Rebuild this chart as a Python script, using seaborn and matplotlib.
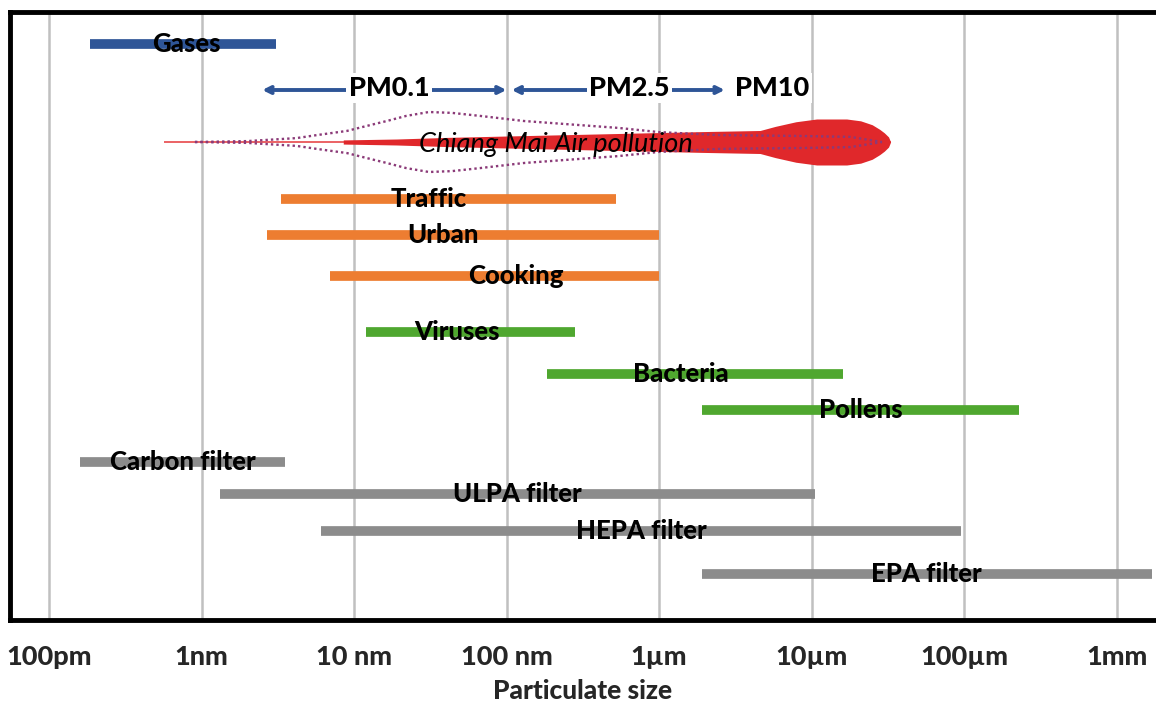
import seaborn as sns
import matplotlib.pyplot as plt
import pandas as pd
import numpy as np

# particle size ranges (metres)
items = ["Gases", "Traffic", "Urban", "Cooking", "Viruses", "Bacteria", "Pollens",
         "Carbon filter", "ULPA filter", "HEPA filter", "EPA filter"]
groups = ["gas", "source", "source", "source", "bio", "bio", "bio",
          "filter", "filter", "filter", "filter"]
size_min = [1.85e-10, 3.3e-9, 2.7e-9, 7.0e-9, 1.2e-8, 1.85e-7, 1.9e-6,
            1.6e-10, 1.33e-9, 6.1e-9, 1.9e-6]
size_max = [3.1e-9, 5.2e-7, 1.0e-6, 1.0e-6, 2.8e-7, 1.6e-5, 2.3e-4,
            3.5e-9, 1.05e-5, 9.5e-5, 1.7e-3]

# Chiang Mai air pollution profiles (relative)
mass_size = [8.5e-9, 1.9e-8, 4.1e-8, 1e-7, 4e-7, 1.85e-6, 4.6e-6, 5.8e-6, 7.9e-6,
             1.08e-5, 1.7e-5, 2.1e-5, 2.5e-5, 2.8e-5, 3.0e-5, 3.2e-5, 3.3e-5]
mass_rel = [0.09, 0.13, 0.2, 0.26, 0.35, 0.45, 0.5, 0.68, 0.88,
            1.0, 1.0, 0.92, 0.75, 0.55, 0.4, 0.22, 0.0]
number_size = [9.05e-10, 2.0e-9, 4.2e-9, 5.7e-9, 9.0e-9, 1.2e-8, 1.64e-8, 2.2e-8, 3.1e-8,
               4.4e-8, 6.7e-8, 1.3e-7, 2.9e-7, 5.4e-7, 1e-6, 2.5e-6, 8.6e-6, 1.8e-5, 2.9e-5]
number_rel = [0.0, 0.03, 0.13, 0.23, 0.37, 0.53, 0.7, 0.87, 1.0,
              0.97, 0.87, 0.7, 0.57, 0.47, 0.33, 0.23, 0.2, 0.17, 0.0]
trace_range = [5.7e-10, 3.3e-5]

# PM classes
pm_labels = ["PM0.1", "PM2.5", "PM10"]
pm_arrows = [(2.5e-9, 1e-7), (1.08e-7, 2.7e-6)]

tick_vals = [1e-10, 1e-9, 1e-8, 1e-7, 1e-6, 1e-5, 1e-4, 1e-3]
tick_labels = ["100pm", "1nm", "10 nm", "100 nm", "1µm", "10µm", "100µm", "1mm"]

# layout: lane of each bar (40 px per unit), label nudges in decades
lanes = [0.8, 4.675, 5.575, 6.6, 8.0, 9.05, 9.95, 11.25, 12.05, 12.975, 14.05]
nudge = [0.02, -0.13, -0.13, 0.14, -0.09, -0.09, 0, 0, 0, 0, 0]
lane_pm, lane_cm = 1.95, 3.25
pm_text_x = [1.7e-8, 6.4e-7, 5.5e-6]

palette = {"gas": "#2e5597", "source": "#ed7d31", "bio": "#4fa72f", "filter": "#8c8c8c"}

rows = []
for it, g, a, b, y in zip(items, groups, size_min, size_max, lanes):
    rows.append({"item": it, "group": g, "size": a, "lane": y})
    rows.append({"item": it, "group": g, "size": b, "lane": y})
df = pd.DataFrame(rows)

sns.set_theme(style="white")
plt.rcParams["font.family"] = ["Lato", "DejaVu Sans"]
plt.rcParams["lines.solid_capstyle"] = "butt"

fig = plt.figure(figsize=(11.56, 7.02), dpi=100)
ax = fig.add_axes([10 / 1156, 82 / 702, 1146 / 1156, 608 / 702])
ax.set_xscale("log")

for v in tick_vals:
    ax.axvline(v, color="#c0c0c0", lw=1.8, zorder=0)

sns.lineplot(data=df, x="size", y="lane", units="item", hue="group", palette=palette,
             estimator=None, sort=False, linewidth=7.0, legend=False, ax=ax, zorder=2)

for it, a, b, y, n in zip(items, size_min, size_max, lanes, nudge):
    xc = 10 ** ((np.log10(a) + np.log10(b)) / 2 + n)
    ax.text(xc, y, it, ha="center", va="center", fontsize=18.5, fontweight="black",
            color="black", zorder=4)

# Chiang Mai profiles
ax.plot(trace_range, [lane_cm, lane_cm], color="#e8484a", lw=1.2, zorder=2)
mh = np.array(mass_rel) * 0.575
ax.fill_between(mass_size, lane_cm - mh, lane_cm + mh, color="#e0282b", lw=0, zorder=2)
nh = np.array(number_rel) * 0.75
ax.plot(number_size, lane_cm - nh, color="#8b3a78", ls=(0, (1, 1.3)), lw=1.7, zorder=3)
ax.plot(number_size, lane_cm + nh, color="#8b3a78", ls=(0, (1, 1.3)), lw=1.7, zorder=3)
ax.text(2.1e-7, lane_cm + 0.05, "Chiang Mai Air pollution", ha="center", va="center",
        fontsize=19.5, style="italic", color="black", zorder=4)

# PM arrows
for a, b in pm_arrows:
    ax.annotate("", xy=(b, lane_pm), xytext=(a, lane_pm),
                arrowprops=dict(arrowstyle="<->", color="#2e5597", lw=2.8,
                                mutation_scale=11, shrinkA=0, shrinkB=0), zorder=3)
for lab, xt in zip(pm_labels, pm_text_x):
    ax.text(xt, lane_pm - 0.05, lab, ha="center", va="center", fontsize=19.5,
            fontweight="black", color="black", zorder=4,
            bbox=dict(facecolor="white", edgecolor="none", pad=2))

ax.set_xlim(10 ** -10.256, 10 ** -2.741)
ax.set_ylim(15.2, 0)
ax.set_yticks([])
ax.set_ylabel("")
ax.set_xticks(tick_vals)
ax.set_xticklabels(tick_labels, fontsize=19.5, fontweight="black")
ax.minorticks_off()
ax.tick_params(axis="x", length=0, pad=18)
ax.set_xlabel("Particulate size", fontsize=19, fontweight="black", labelpad=7)
for s in ["left", "top", "bottom"]:
    ax.spines[s].set_linewidth(3.5)
    ax.spines[s].set_color("black")
ax.spines["right"].set_visible(False)

fig.savefig("out.png", dpi=100)
